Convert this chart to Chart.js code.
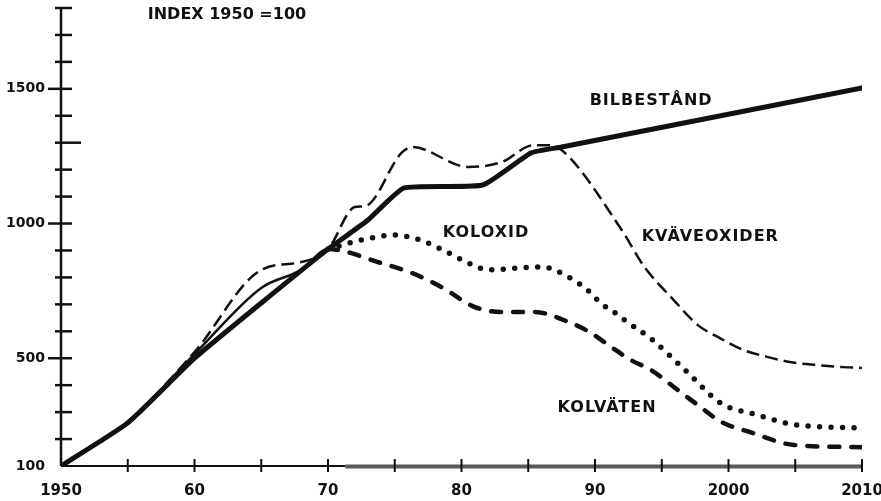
<!DOCTYPE html>
<html>
<head>
<meta charset="utf-8">
<script src="https://cdn.jsdelivr.net/npm/chart.js@4/dist/chart.umd.min.js"></script>
<style>
  html, body { margin: 0; padding: 0; background: #ffffff; }
  #wrap { width: 881px; height: 501px; position: relative; }
</style>
</head>
<body>
<div id="wrap"><canvas id="c" width="881" height="501"></canvas></div>
<script>
// ---- Data (index, 1950 = 100) ----
const bilYears  = [1950, 1955, 1960, 1965, 1970, 1973, 1975.7, 1981.6, 1985.2, 1987.5, 2010];
const bilValues = [100, 260, 500, 705, 905, 1013, 1132, 1143, 1262, 1284, 1503];

const kvaYears  = [1950, 1955, 1960, 1965, 1968, 1970, 1972, 1972.8, 1975.5, 1976.3, 1980.5, 1983, 1985.4, 1986.5, 1987.5, 1992, 1993.7, 1995.9, 1997.7, 1999.2, 2001.1, 2002.9, 2004.6, 2006.6, 2008.6, 2010];
const kvaValues = [100, 265, 523, 828, 857, 905, 1061, 1065, 1262, 1284, 1210, 1228, 1291, 1291, 1273, 976, 839, 716, 623, 579, 531, 505, 486, 475, 467, 464];

const koxYears  = [1970, 1972.5, 1975, 1976.9, 1978.6, 1980.5, 1982, 1984.3, 1986, 1988, 1989.7, 1990.4, 1991.4, 1992.2, 1994.3, 1996.9, 1999.4, 2002.2, 2004.6, 2007.1, 2010];
const koxValues = [905, 939, 957, 939, 902, 854, 828, 835, 839, 802, 742, 705, 672, 642, 568, 449, 334, 289, 256, 245, 241];

const kolYears  = [1950, 1955, 1960, 1965, 1968, 1970, 1974, 1976.3, 1978.5, 1981, 1983, 1985.4, 1988.2, 1989.7, 1991.2, 1992.7, 1994.2, 1996.2, 1997.9, 1999.4, 2001.6, 2004.9, 2010];
const kolValues = [100, 262, 515, 761, 828, 905, 853, 816, 764, 690, 672, 672, 631, 594, 542, 493, 456, 382, 319, 265, 226, 178, 170];

const yLabelValues = [100, 500, 1000, 1500];
const xTickLabels = { 1950: '1950', 1960: '60', 1970: '70', 1980: '80', 1990: '90', 2000: '2000', 2010: '2010' };

const titleText = 'INDEX 1950 =100';
const seriesLabels = [
  { text: 'BILBESTÅND',  x: 1989.6, y: 1455 },
  { text: 'KOLOXID',     x: 1978.6, y: 965 },
  { text: 'KVÄVEOXIDER', x: 1993.5, y: 950 },
  { text: 'KOLVÄTEN',    x: 1987.2, y: 315 }
];

const toPoints = (xs, ys) => xs.map((x, i) => ({ x: x, y: ys[i] }));

const INK = '#111111';
const FONT = '"DejaVu Sans", sans-serif';

const handPlugin = {
  id: 'handDrawn',
  beforeDatasetsDraw(chart) {
    const ctx = chart.ctx;
    const xs = chart.scales.x, ys = chart.scales.y;
    const x0 = xs.getPixelForValue(1950);
    const y0 = ys.getPixelForValue(100);
    ctx.save();
    ctx.strokeStyle = INK;
    ctx.lineCap = 'butt';
    // y axis
    ctx.lineWidth = 2.5;
    ctx.beginPath();
    ctx.moveTo(x0, ys.getPixelForValue(1800));
    ctx.lineTo(x0, y0);
    ctx.stroke();
    // y ticks
    ctx.lineWidth = 2.5;
    for (let v = 200; v <= 1800; v += 100) {
      const py = ys.getPixelForValue(v);
      const left = yLabelValues.includes(v) ? 13 : 6;
      const right = v === 1300 ? 20 : 11;
      ctx.beginPath();
      ctx.moveTo(x0 - left, py);
      ctx.lineTo(x0 + right, py);
      ctx.stroke();
    }
    // x axis (left part dark, right part greyish as in the scan)
    const xm = xs.getPixelForValue(1971.3);
    ctx.lineWidth = 2;
    ctx.beginPath();
    ctx.moveTo(x0, y0);
    ctx.lineTo(xm, y0);
    ctx.stroke();
    ctx.strokeStyle = '#5a5a5a';
    ctx.lineWidth = 4;
    ctx.beginPath();
    ctx.moveTo(xm, y0 + 0.5);
    ctx.lineTo(xs.getPixelForValue(2010), y0 + 0.5);
    ctx.stroke();
    // x ticks
    ctx.strokeStyle = INK;
    ctx.lineWidth = 2;
    for (let yr = 1955; yr <= 2010; yr += 5) {
      const px = xs.getPixelForValue(yr);
      ctx.beginPath();
      ctx.moveTo(px, y0 - 7);
      ctx.lineTo(px, y0 + 6);
      ctx.stroke();
    }
    ctx.restore();
  },
  afterDatasetsDraw(chart) {
    const ctx = chart.ctx;
    const xs = chart.scales.x, ys = chart.scales.y;
    ctx.save();
    ctx.fillStyle = INK;
    ctx.textBaseline = 'middle';
    ctx.textAlign = 'left';
    ctx.font = 'bold 16px ' + FONT;
    ctx.fillText(titleText, xs.getPixelForValue(1956.5), ys.getPixelForValue(1774));
    try { ctx.letterSpacing = '1px'; } catch (e) {}
    seriesLabels.forEach(l => {
      ctx.fillText(l.text, xs.getPixelForValue(l.x), ys.getPixelForValue(l.y));
    });
    ctx.restore();
  }
};

new Chart(document.getElementById('c'), {
  type: 'line',
  data: {
    datasets: [
      {
        label: 'KVÄVEOXIDER',
        data: toPoints(kvaYears, kvaValues),
        borderColor: INK,
        borderWidth: 2.5,
        borderDash: [13, 6],
        cubicInterpolationMode: 'monotone',
        pointRadius: 0,
        fill: false
      },
      {
        label: 'KOLOXID',
        data: toPoints(koxYears, koxValues),
        borderColor: INK,
        borderWidth: 5.5,
        borderDash: [0, 11.5],
        borderCapStyle: 'round',
        cubicInterpolationMode: 'monotone',
        pointRadius: 0,
        fill: false
      },
      {
        label: 'KOLVÄTEN',
        data: toPoints(kolYears, kolValues),
        borderColor: INK,
        borderWidth: 4.5,
        borderDash: [10, 12],
        borderCapStyle: 'round',
        cubicInterpolationMode: 'monotone',
        pointRadius: 0,
        fill: false,
        segment: {
          borderDash: c => (c.p1.parsed.x <= 1970 ? [] : undefined),
          borderWidth: c => (c.p1.parsed.x <= 1970 ? 2.5 : undefined)
        }
      },
      {
        label: 'BILBESTÅND',
        data: toPoints(bilYears, bilValues),
        borderColor: INK,
        borderWidth: 5,
        borderJoinStyle: 'round',
        borderCapStyle: 'round',
        tension: 0.15,
        pointRadius: 0,
        fill: false
      }
    ]
  },
  options: {
    responsive: false,
    animation: false,
    events: [],
    layout: { padding: { top: 0, right: 0, left: 0, bottom: 0 } },
    plugins: { legend: { display: false }, tooltip: { enabled: false }, title: { display: false } },
    scales: {
      x: {
        type: 'linear',
        min: 1950,
        max: 2010,
        grid: { display: false, drawTicks: false },
        border: { display: false },
        ticks: {
          stepSize: 10,
          autoSkip: false,
          maxRotation: 0,
          padding: 16,
          color: INK,
          font: { family: FONT, weight: 'bold', size: 15 },
          callback: v => xTickLabels[v] || ''
        },
        afterFit: s => { s.height = 35; s.paddingLeft = 0; s.paddingRight = 19; }
      },
      y: {
        type: 'linear',
        min: 100,
        max: 1800,
        grid: { display: false, drawTicks: false },
        border: { display: false },
        ticks: {
          stepSize: 100,
          autoSkip: false,
          padding: 16,
          color: INK,
          font: { family: FONT, weight: 'bold', size: 14 },
          callback: v => (yLabelValues.includes(v) ? String(v) : '')
        },
        afterFit: s => { s.width = 61; s.paddingTop = 8; s.paddingBottom = 0; }
      }
    }
  },
  plugins: [handPlugin]
});
</script>
</body>
</html>
